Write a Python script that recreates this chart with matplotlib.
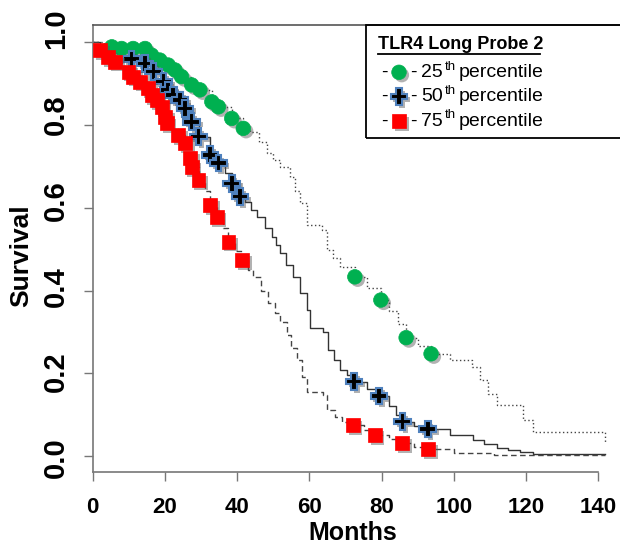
import numpy as np
import matplotlib
matplotlib.use('Agg')
from matplotlib import pyplot as plt
from matplotlib import font_manager
import matplotlib.patheffects as pe
from matplotlib.patches import Rectangle
from matplotlib.lines import Line2D

plt.rcParams['font.family'] = ['Liberation Sans', 'DejaVu Sans']

# Kaplan-Meier curves (months, survival)
p25_t = [0, 3, 5.3, 8, 11.2, 14.5, 16.3, 18.6, 20.9, 22.8, 24.6, 27.4, 29.7, 33, 34.8,
         38.5, 41.7, 43.6, 46, 48.2, 50, 51.9, 54.6, 56, 57.4, 59.3, 63.4, 64.8, 66.5,
         68.5, 72.6, 76, 79.8, 82, 84.5, 86.8, 90, 93.7, 99, 105, 107.3, 109.5, 111.9,
         119.2, 122, 141.9]
p25_s = [1.0, 0.992, 0.989, 0.985, 0.985, 0.985, 0.969, 0.957, 0.945, 0.933, 0.917, 0.897,
         0.885, 0.856, 0.844, 0.816, 0.792, 0.784, 0.76, 0.732, 0.715, 0.699, 0.675, 0.64,
         0.611, 0.558, 0.546, 0.498, 0.478, 0.458, 0.433, 0.405, 0.377, 0.35, 0.32, 0.286,
         0.265, 0.247, 0.232, 0.216, 0.184, 0.15, 0.123, 0.087, 0.059, 0.031]

p50_t = [0, 2, 5, 8, 10.8, 14.5, 16.8, 19.6, 20.9, 22.3, 24.2, 25.6, 27.4, 29.3, 32.5,
         34.8, 36.5, 38.5, 40.8, 42.3, 43.8, 45.4, 47.7, 49.6, 50.8, 51.9, 53.5, 55.6,
         57.4, 59.3, 60.2, 63.9, 65.2, 66.8, 68.5, 70.5, 72.4, 76, 79.3, 82, 84, 85.8,
         89, 92.8, 99, 105.3, 108.5, 111.9, 115, 118.3, 122, 141.9]
p50_s = [1.0, 0.99, 0.98, 0.97, 0.959, 0.949, 0.929, 0.905, 0.885, 0.873, 0.86, 0.84,
         0.808, 0.772, 0.728, 0.708, 0.685, 0.659, 0.627, 0.615, 0.595, 0.578, 0.55, 0.53,
         0.51, 0.49, 0.462, 0.433, 0.395, 0.353, 0.309, 0.3, 0.256, 0.232, 0.208, 0.195,
         0.18, 0.163, 0.145, 0.12, 0.1, 0.083, 0.072, 0.065, 0.051, 0.039, 0.03, 0.019,
         0.014, 0.01, 0.005, 0.005]

p75_t = [0, 2, 4.3, 6.2, 8, 9.9, 11.2, 13.1, 15.4, 16.3, 17.7, 19.1, 20, 20.5, 22, 23.7,
         25.6, 26.9, 27.4, 29.3, 31, 32.5, 34.3, 36, 37.6, 39.5, 41.3, 43, 44.5, 46.5,
         48.5, 50.5, 51.9, 53.7, 55, 56.5, 58, 59.3, 63.9, 64.8, 67, 69, 72, 75, 78.1,
         82, 85.6, 89, 92.8, 100, 111, 141.9]
p75_s = [1.0, 0.981, 0.965, 0.953, 0.94, 0.929, 0.917, 0.905, 0.889, 0.873, 0.86, 0.844,
         0.82, 0.804, 0.79, 0.776, 0.756, 0.72, 0.699, 0.667, 0.64, 0.607, 0.578, 0.55,
         0.518, 0.495, 0.474, 0.45, 0.433, 0.4, 0.37, 0.345, 0.325, 0.292, 0.26, 0.232,
         0.19, 0.155, 0.147, 0.111, 0.095, 0.083, 0.074, 0.062, 0.05, 0.04, 0.031, 0.022,
         0.016, 0.008, 0.002, 0.002]

# highlighted points on each curve
p25_mark_t = [5.3, 8, 11.2, 14.5, 16.3, 18.6, 20.9, 22.8, 24.6, 27.4, 29.7, 33, 34.8,
              38.5, 41.7, 72.6, 79.8, 86.8, 93.7]
p25_mark_s = [0.989, 0.985, 0.985, 0.985, 0.969, 0.957, 0.945, 0.933, 0.917, 0.897, 0.885,
              0.856, 0.844, 0.816, 0.792, 0.433, 0.377, 0.286, 0.247]
p50_mark_t = [10.8, 14.5, 16.8, 19.6, 20.9, 22.3, 24.2, 25.6, 27.4, 29.3, 32.5, 34.8,
              38.5, 40.8, 72.4, 79.3, 85.8, 92.8]
p50_mark_s = [0.959, 0.949, 0.929, 0.905, 0.885, 0.873, 0.86, 0.84, 0.808, 0.772, 0.728,
              0.708, 0.659, 0.627, 0.18, 0.145, 0.083, 0.065]
p75_mark_t = [2, 4.3, 6.2, 9.9, 11.2, 13.1, 15.4, 16.3, 17.7, 19.1, 20, 20.5, 23.7, 25.6,
              26.9, 27.4, 29.3, 32.5, 34.3, 37.6, 41.3, 72, 78.1, 85.6, 92.8]
p75_mark_s = [0.981, 0.965, 0.953, 0.929, 0.917, 0.905, 0.889, 0.873, 0.86, 0.844, 0.82,
              0.804, 0.776, 0.756, 0.72, 0.699, 0.667, 0.607, 0.578, 0.518, 0.474, 0.074,
              0.05, 0.031, 0.016]

x_ticks = [0, 20, 40, 60, 80, 100, 120, 140]
y_ticks = [0.0, 0.2, 0.4, 0.6, 0.8, 1.0]
legend_title = 'TLR4 Long Probe 2'
legend_pcts = ['25', '50', '75']

W, H = 620, 545


def fx(px):
    return px / W


def fy(py):
    return 1 - py / H


fig = plt.figure(figsize=(6.2, 5.45), dpi=100)
ax = fig.add_axes([fx(92.7), fy(471.7), 1 - fx(92.7), fy(25) - fy(471.7)])

shadow = [pe.SimplePatchShadow(offset=(2, -2), shadow_rgbFace='#555555', alpha=0.45), pe.Normal()]

ax.plot(p25_t, p25_s, drawstyle='steps-post', color='#444444', lw=1.0, ls=(0, (1, 1.8)))
ax.plot(p50_t, p50_s, drawstyle='steps-post', color='#333333', lw=1.0, ls='-')
ax.plot(p75_t, p75_s, drawstyle='steps-post', color='#444444', lw=1.0, ls=(0, (4, 2.5)))

green_style = dict(ls='none', marker='o', ms=10.5, mfc='#00B050', mec='#00B050', mew=0.5)
cross_style = dict(ls='none', marker='P', ms=12, mfc='black', mec='#4F81BD', mew=1.5)
red_style = dict(ls='none', marker='s', ms=10, mfc='#FF0000', mec='#FF0000', mew=0.5)

ax.plot(p25_mark_t, p25_mark_s, path_effects=shadow, zorder=3, **green_style)
ax.plot(p50_mark_t, p50_mark_s, path_effects=shadow, zorder=4, **cross_style)
ax.plot(p75_mark_t, p75_mark_s, path_effects=shadow, zorder=5, **red_style)

ax.set_xlim(0, (W - 92.7) / 3.611)
ax.set_ylim((456 - 471.7) / 413.7, (456 - 25) / 413.7)

ax.set_xticks(x_ticks)
ax.set_xticklabels([str(v) for v in x_ticks], fontsize=16, fontweight='bold')
ax.set_yticks(y_ticks)
ax.set_yticklabels([])
ax.tick_params(axis='x', length=6.5, width=1, color='#777777', pad=12)
ax.tick_params(axis='y', length=6.5, width=1, color='#777777')

# the y labels in the original sit on a slightly wider spacing than the ticks
for v in y_ticks:
    fig.text(fx(56), fy(458 - 429.5 * v), '%.1f' % v, fontsize=21, fontweight='bold',
             rotation=90, ha='center', va='center')

for side in ['left', 'bottom', 'top']:
    ax.spines[side].set_color('#777777')
    ax.spines[side].set_linewidth(1.2)
ax.spines['top'].set_color('#555555')
ax.spines['right'].set_visible(False)
ax.spines['bottom'].set_bounds(0, 140)

fig.text(fx(353), fy(533), 'Months', fontsize=18, fontweight='bold', ha='center', va='center')
fig.text(fx(21.5), fy(256), 'Survival', fontsize=19, fontweight='bold', rotation=90,
         ha='center', va='center')

# legend box, drawn by hand
fig.add_artist(Rectangle((fx(366), fy(138)), fx(640) - fx(366), fy(25) - fy(138),
                         transform=fig.transFigure, fill=False, edgecolor='black', lw=1.3))
fig.text(fx(378), fy(44.5), legend_title, fontsize=13, fontweight='bold', ha='left', va='center')
fig.add_artist(Line2D([fx(378), fx(540)], [fy(53.5), fy(53.5)], transform=fig.transFigure,
                      color='black', lw=1.3))
row_y = [72.3, 96.7, 121]
styles = [green_style, cross_style, red_style]
for pct, yy, st in zip(legend_pcts, row_y, styles):
    fig.text(fx(384), fy(yy), '-', fontsize=14, ha='center', va='center')
    fig.text(fx(413.5), fy(yy), '-', fontsize=14, ha='center', va='center')
    fig.add_artist(Line2D([fx(399)], [fy(yy)], transform=fig.transFigure,
                          path_effects=shadow, **st))
    fig.text(fx(421), fy(yy), pct, fontsize=14, ha='left', va='center')
    fig.text(fx(445), fy(yy - 5.5), 'th', fontsize=9.5, ha='left', va='center')
    fig.text(fx(459), fy(yy), 'percentile', fontsize=14, ha='left', va='center')

fig.savefig('out.png', dpi=100)
